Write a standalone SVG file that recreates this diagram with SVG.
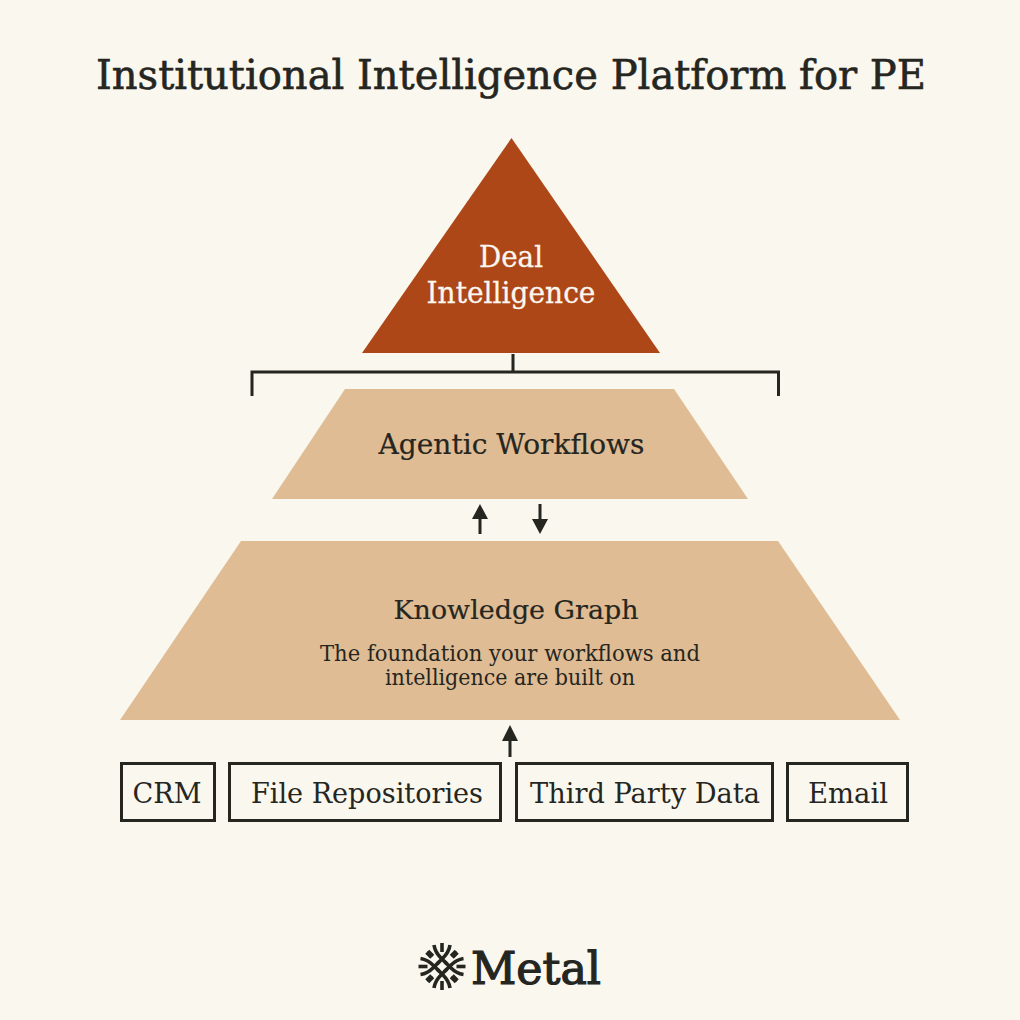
<svg xmlns="http://www.w3.org/2000/svg" width="1020" height="1020" viewBox="0 0 1020 1020">
<defs>
<g id="arm" fill="none" stroke="#25261f" stroke-width="3.600">
<path d="M434 945Q435 952 441 958L447 964"/>
<path d="M450 945Q449 952 443 958L437 964"/>
<path d="M428 951L433 956M456 951L451 956"/>
<path d="M442 943V952"/>
</g>
</defs>
<style>
.t{font-family:"DejaVu Serif","Liberation Serif",serif;fill:#25261f;text-anchor:middle}
.box{fill:none;stroke:#25261f;stroke-width:3}
.ln{fill:none;stroke:#25261f;stroke-width:3}
.ah{fill:#25261f}
.tan{fill:#e0bc94}
</style>
<rect width="1020" height="1020" fill="#faf7ef"/>
<text id="title" class="t" x="511" y="89" font-size="41" stroke="#25261f" stroke-width=".6" textLength="830" lengthAdjust="spacingAndGlyphs">Institutional Intelligence Platform for PE</text>
<g id="deal-intelligence"><polygon points="511.500,138 660,353 362,353" fill="#ae4718"/>
<text class="t" x="511" y="267" font-size="29" stroke="#faf7ef" stroke-width=".3" style="fill:#faf7ef" textLength="64" lengthAdjust="spacingAndGlyphs">Deal</text>
<text class="t" x="511" y="303" font-size="29" stroke="#faf7ef" stroke-width=".3" style="fill:#faf7ef" textLength="169" lengthAdjust="spacingAndGlyphs">Intelligence</text></g>
<g id="agentic-workflows"><polygon class="tan" points="345,389 674,389 748,499 272,499"/>
<text class="t" x="511.500" y="454" font-size="27" stroke="#25261f" stroke-width=".2" textLength="266" lengthAdjust="spacingAndGlyphs">Agentic Workflows</text></g>
<g id="knowledge-graph"><polygon class="tan" points="241,541 778,541 900,720 120,720"/>
<text class="t" x="516" y="619" font-size="26" stroke="#25261f" stroke-width=".2" textLength="245" lengthAdjust="spacingAndGlyphs">Knowledge Graph</text>
<text class="t" x="510" y="661" font-size="22" textLength="380" lengthAdjust="spacingAndGlyphs">The foundation your workflows and</text>
<text class="t" x="510" y="685" font-size="22" textLength="250" lengthAdjust="spacingAndGlyphs">intelligence are built on</text></g>
<g id="crm"><rect class="box" x="121.500" y="763.500" width="93" height="57"/><text class="t" x="167" y="803" font-size="28" textLength="69" lengthAdjust="spacingAndGlyphs">CRM</text></g>
<g id="file-repositories"><rect class="box" x="229.500" y="763.500" width="271" height="57"/><text class="t" x="367" y="803" font-size="28" textLength="232" lengthAdjust="spacingAndGlyphs">File Repositories</text></g>
<g id="third-party-data"><rect class="box" x="516.500" y="763.500" width="256" height="57"/><text class="t" x="645" y="803" font-size="28" textLength="230" lengthAdjust="spacingAndGlyphs">Third Party Data</text></g>
<g id="email"><rect class="box" x="787.500" y="763.500" width="120" height="57"/><text class="t" x="848" y="803" font-size="28" textLength="80" lengthAdjust="spacingAndGlyphs">Email</text></g>
<g id="connectors">
<path class="ln" d="M252 396V372H778.500V396M513 354V372"/>
<path class="ln" d="M480 534V515M540 504V523M510 757V735"/>
<polygon class="ah" points="480,504 488,519 472,519"/>
<polygon class="ah" points="540,534 548,519 532,519"/>
<polygon class="ah" points="510,725 518,741 502,741"/>
</g>
<g id="logo">
<use href="#arm"/>
<use href="#arm" transform="rotate(90 442 966.500)"/>
<use href="#arm" transform="rotate(180 442 966.500)"/>
<use href="#arm" transform="rotate(270 442 966.500)"/>
<text class="t" x="536" y="984" font-size="44" stroke="#25261f" stroke-width="1.200" textLength="130" lengthAdjust="spacingAndGlyphs">Metal</text>
</g>
</svg>
